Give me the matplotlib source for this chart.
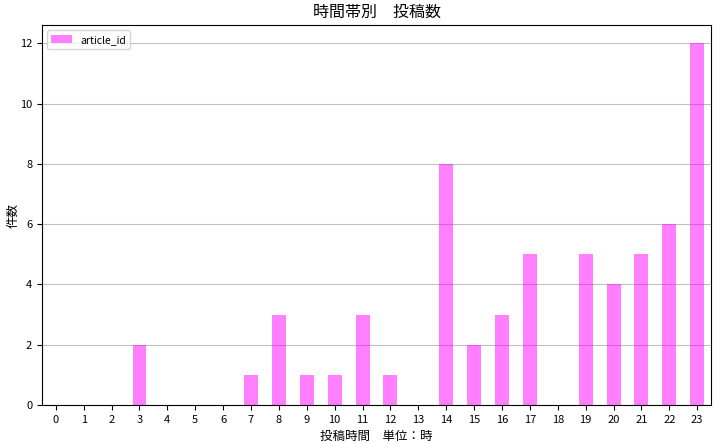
import numpy as np
import matplotlib
matplotlib.use("Agg")
import matplotlib.pyplot as plt

plt.rcParams['font.family'] = ['Noto Sans CJK JP', 'DejaVu Sans']

hours = list(range(24))
counts = [0, 0, 0, 2, 0, 0, 0, 1, 3, 1, 1, 3, 1, 0, 8, 2, 3, 5, 0, 5, 4, 5, 6, 12]

fig = plt.figure(figsize=(7.22, 4.43), dpi=100)
ax = fig.add_axes([0.058, 0.086, 0.927, 0.857])

ax.bar(hours, counts, width=0.5, color='magenta', alpha=0.5, label='article_id', zorder=2)
ax.set_xlim(-0.5, 23.5)
ax.set_ylim(0, 12.6)
ax.set_xticks(hours)
ax.set_xticklabels([str(h) for h in hours], fontsize=8)
ax.tick_params(axis='y', labelsize=8)
ax.grid(axis='y', color='#c0c0c0', linewidth=0.8, zorder=0)
ax.set_title('時間帯別　投稿数', fontsize=11.5)
ax.set_xlabel('投稿時間　単位：時', fontsize=9)
ax.set_ylabel('件数', fontsize=9)
ax.yaxis.set_label_coords(-0.034, 0.5)
ax.legend(loc='upper left', fontsize=7.5)

fig.savefig('out.png', dpi=100)
